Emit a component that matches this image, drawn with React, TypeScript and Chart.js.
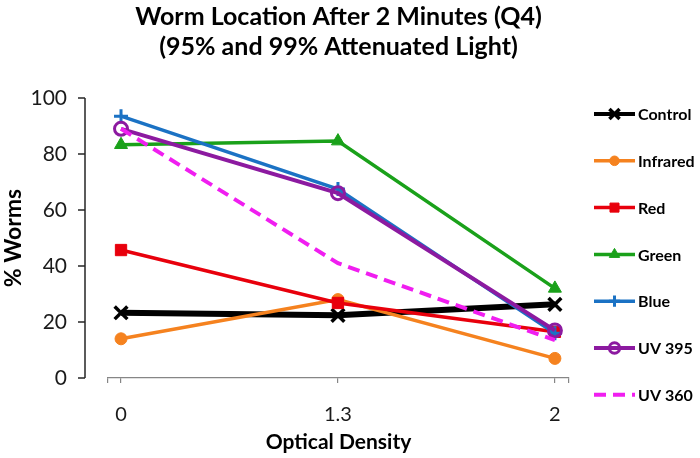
import React, { useEffect, useRef } from 'react';
import { Chart, registerables } from 'chart.js';
import { drawPoint } from 'chart.js/helpers';

Chart.register(...registerables);

// ---- data ----
const categories = ['0', '1.3', '2'];
const seriesNames = ['Control', 'Infrared', 'Red', 'Green', 'Blue', 'UV 395', 'UV 360'];
const control = [23.3, 22.4, 26.3];
const infrared = [14.0, 28.0, 7.0];
const red = [45.7, 26.8, 16.5];
const green = [83.3, 84.6, 32.0];
const blue = [93.5, 67.5, 16.0];
const uv395 = [89.0, 66.0, 17.0];
const uv360 = [89.0, 41.0, 13.5];
const yTicks = [0, 20, 40, 60, 80, 100];
const titleLines = ['Worm Location After 2 Minutes (Q4)', '(95% and 99% Attenuated Light)'];
const xTitle = 'Optical Density';
const yTitle = '% Worms';

const seriesValues = [control, infrared, red, green, blue, uv395, uv360];

// ---- styles ----
const FONT = 'Lato, "Open Sans", sans-serif';
const seriesStyles = [
  { color: '#000000', width: 6, point: 'crossRot', radius: 9, pw: 3.5, fill: '#000000', dash: [] },
  { color: '#F5821F', width: 3.5, point: 'circle', radius: 6, pw: 1, fill: '#F5821F', dash: [] },
  { color: '#E8000C', width: 3.5, point: 'rect', radius: 8, pw: 1, fill: '#E8000C', dash: [] },
  { color: '#1AA11A', width: 3.5, point: 'triangle', radius: 7.5, pw: 1, fill: '#1AA11A', dash: [] },
  { color: '#1B72C4', width: 3.5, point: 'cross', radius: 7, pw: 3, fill: '#1B72C4', dash: [] },
  { color: '#8C1AA0', width: 4, point: 'circle', radius: 6.5, pw: 3, fill: 'rgba(0,0,0,0)', dash: [] },
  { color: '#F01EF0', width: 4, point: 'circle', radius: 0, pw: 0, fill: '#F01EF0', dash: [12, 7] },
];

const offsetYAxis = {
  id: 'offsetYAxis',
  beforeDatasetsDraw(chart: any) {
    const { ctx, chartArea, scales } = chart;
    const y = scales.y;
    const ax = chartArea.left - 23;
    ctx.save();
    ctx.strokeStyle = '#262626';
    ctx.lineWidth = 1.5;
    ctx.beginPath();
    ctx.moveTo(ax, y.getPixelForValue(y.max));
    ctx.lineTo(ax, y.getPixelForValue(y.min));
    y.ticks.forEach((t: any) => {
      const py = y.getPixelForValue(t.value);
      ctx.moveTo(ax - 7, py);
      ctx.lineTo(ax, py);
    });
    ctx.stroke();
    ctx.restore();
  },
};

const sideLegend = {
  id: 'sideLegend',
  afterDraw(chart: any) {
    const { ctx, chartArea } = chart;
    const x0 = chartArea.right + 25;
    const lineLen = 41;
    const y0 = chartArea.top + 16;
    const step = 46.8;
    chart.data.datasets.forEach((ds: any, i: number) => {
      const y = y0 + i * step;
      ctx.save();
      ctx.strokeStyle = ds.borderColor;
      ctx.lineWidth = Math.min(ds.borderWidth, 4);
      ctx.setLineDash(ds.borderDash || []);
      ctx.beginPath();
      ctx.moveTo(x0, y);
      ctx.lineTo(x0 + lineLen, y);
      ctx.stroke();
      ctx.setLineDash([]);
      if (ds.pointRadius > 0) {
        ctx.fillStyle = ds.pointBackgroundColor;
        ctx.strokeStyle = ds.pointBorderColor;
        ctx.lineWidth = ds.pointBorderWidth;
        drawPoint(ctx, { pointStyle: ds.pointStyle, radius: ds.pointRadius * 0.8, borderWidth: ds.pointBorderWidth, rotation: 0 } as any, x0 + lineLen / 2, y);
      }
      ctx.fillStyle = '#000';
      ctx.font = `bold 16px ${FONT}`;
      ctx.textBaseline = 'middle';
      ctx.textAlign = 'left';
      ctx.fillText(ds.label, x0 + lineLen + 3, y + 1);
      ctx.restore();
    });
  },
};

export default function App() {
  const ref = useRef<HTMLCanvasElement>(null);
  useEffect(() => {
    const datasets = seriesNames.map((name, i) => {
      const s = seriesStyles[i];
      return {
        label: name,
        data: seriesValues[i].map((v, k) => ({ x: k, y: v })),
        borderColor: s.color,
        backgroundColor: s.fill,
        borderWidth: s.width,
        borderDash: s.dash,
        pointStyle: s.point,
        pointRadius: s.radius,
        pointBorderWidth: s.pw,
        pointBackgroundColor: s.fill,
        pointBorderColor: s.color,
        tension: 0,
        order: seriesNames.length - i,
      };
    });
    const chart = new Chart(ref.current as HTMLCanvasElement, {
      type: 'line',
      data: { datasets } as any,
      plugins: [offsetYAxis, sideLegend],
      options: {
        animation: false,
        responsive: false,
        layout: { padding: { left: 0, right: 131, top: 0, bottom: 0 } },
        plugins: {
          legend: { display: false },
          tooltip: { enabled: false },
          title: {
            display: true,
            text: titleLines,
            fullSize: false,
            color: '#000',
            font: { family: FONT, size: 25, weight: 'bold', lineHeight: 1.2 },
            padding: { top: 2, bottom: 36 },
          },
        },
        scales: {
          x: {
            type: 'linear',
            min: -0.06,
            max: 2.065,
            afterBuildTicks: (s: any) => {
              s.ticks = [-0.06, 0, 1, 2, 2.065].map((v) => ({ value: v }));
            },
            afterFit: (s: any) => {
              s.height = 80;
            },
            ticks: {
              autoSkip: false,
              maxRotation: 0,
              padding: 20,
              color: '#1a1a1a',
              font: { family: FONT, size: 20 },
              callback: (v: any) => (Number.isInteger(v) ? categories[v] : ''),
            },
            grid: { drawOnChartArea: false, drawTicks: true, tickLength: 5, color: '#868686', lineWidth: 1.2 },
            border: { display: true, color: '#868686', width: 1.2 },
            title: {
              display: true,
              text: xTitle,
              color: '#000',
              font: { family: FONT, size: 21, weight: 'bold' },
              padding: { top: 0, bottom: 3 },
            },
          },
          y: {
            min: 0,
            max: 100,
            afterBuildTicks: (s: any) => {
              s.ticks = yTicks.map((v) => ({ value: v }));
            },
            afterFit: (s: any) => {
              s.width = 108;
            },
            ticks: { padding: 41, color: '#1a1a1a', font: { family: FONT, size: 21 } },
            grid: { display: false, drawTicks: false },
            border: { display: false },
            title: {
              display: true,
              text: yTitle,
              color: '#000',
              font: { family: FONT, size: 23, weight: 'bold' },
              padding: { top: 0, bottom: 0 },
            },
          },
        },
      } as any,
    });
    return () => chart.destroy();
  }, []);
  return (
    <div style={{ position: 'absolute', left: 0, top: 0, width: 700, height: 458, background: '#fff' }}>
      <canvas ref={ref} width={700} height={458} style={{ display: 'block' }} />
    </div>
  );
}
